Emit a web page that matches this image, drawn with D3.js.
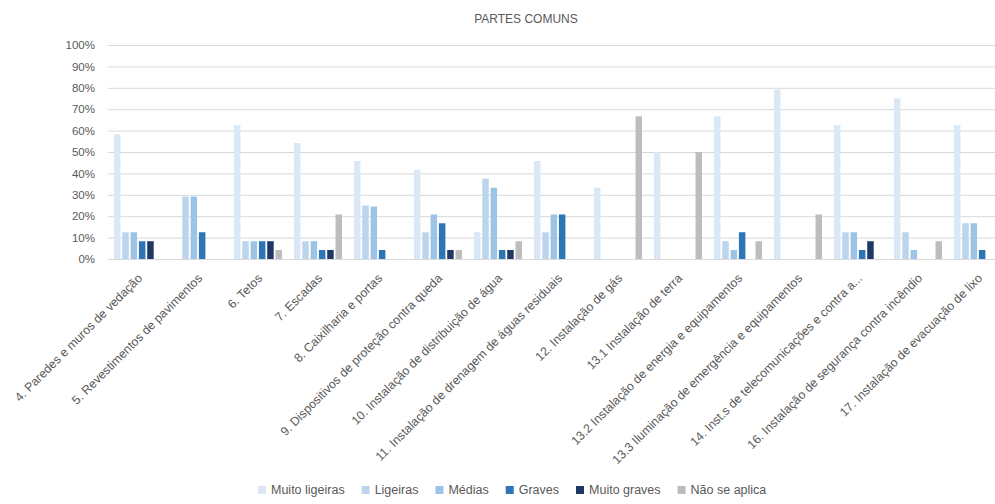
<!DOCTYPE html>
<html><head><meta charset="utf-8">
<script src="https://cdn.jsdelivr.net/npm/d3@7"></script>
<style>body{margin:0;background:#fff;} svg{display:block;font-family:"Liberation Sans",Arial,sans-serif;}</style>
</head><body><svg id="c" width="995" height="504"></svg>
<script>
const title = "PARTES COMUNS";
const categories = ["4. Paredes e muros de vedação","5. Revestimentos de pavimentos","6. Tetos","7. Escadas","8. Caixilharia e portas","9. Dispositivos de proteção contra queda","10. Instalação de distribuição de água","11. Instalação de drenagem de águas residuais","12. Instalação de gás","13.1 Instalação de terra","13.2 Instalação de energia e equipamentos","13.3 Iluminação de emergência e equipamentos","14. Inst.s de telecomunicações e contra a...","16. Instalação de segurança contra incêndio","17. Instalação de evacuação de lixo"];
const seriesNames = ["Muito ligeiras","Ligeiras","Médias","Graves","Muito graves","Não se aplica"];
const muitoLigeiras = [58.3, 0, 62.5, 54.2, 45.8, 41.7, 12.5, 45.8, 33.3, 50, 66.7, 79.2, 62.5, 75, 62.5];
const ligeiras      = [12.5, 29.2, 8.3, 8.3, 25, 12.5, 37.5, 12.5, 0, 0, 8.3, 0, 12.5, 12.5, 16.7];
const medias        = [12.5, 29.2, 8.3, 8.3, 24.5, 20.8, 33.3, 20.8, 0, 0, 4.2, 0, 12.5, 4.2, 16.7];
const graves        = [8.3, 12.5, 8.3, 4.2, 4.2, 16.7, 4.2, 20.8, 0, 0, 12.5, 0, 4.2, 0, 4.2];
const muitoGraves   = [8.3, 0, 8.3, 4.2, 0, 4.2, 4.2, 0, 0, 0, 0, 0, 8.3, 0, 0];
const naoSeAplica   = [0, 0, 4.2, 20.8, 0, 4.2, 8.3, 0, 66.7, 50, 8.3, 20.8, 0, 8.3, 0];
const yTicks = [0,10,20,30,40,50,60,70,80,90,100];
const colors = ["#dae8f5","#bdd5ec","#9dc3e6","#2e75b6","#1f3864","#bdbdbd"];

const seriesValues = [muitoLigeiras, ligeiras, medias, graves, muitoGraves, naoSeAplica];
const svg = d3.select("#c");
const x0 = d3.scaleBand().domain(categories).range([108, 1008]).padding(0);
const x1 = d3.scaleBand().domain(seriesNames).range([6, 54]).paddingInner(0.22);
const y = d3.scaleLinear().domain([0, 100]).range([259, 45]);

// gridlines
svg.append("g").selectAll("line").data(yTicks).join("line")
  .attr("x1", 108).attr("x2", 995)
  .attr("y1", d => y(d)+0.5).attr("y2", d => y(d)+0.5)
  .attr("stroke", "#d9d9d9").attr("stroke-width", 1);

// y axis labels
const yAxis = d3.axisLeft(y).tickValues(yTicks).tickFormat(d => d + "%").tickSize(0).tickPadding(0);
const ya = svg.append("g").attr("transform", "translate(95,0)").call(yAxis);
ya.select(".domain").remove();
ya.selectAll("text").attr("fill", "#595959").style("font-size", "11.5px").style("font-family", "Liberation Sans, Arial, sans-serif");

// bars
const groups = svg.append("g").selectAll("g").data(categories).join("g")
  .attr("transform", d => `translate(${x0(d)},0)`);
groups.selectAll("rect").data((c, i) => seriesNames.map((s, j) => ({s, j, v: seriesValues[j][i]})))
  .join("rect")
  .attr("x", d => x1(d.s))
  .attr("width", x1.bandwidth())
  .attr("y", d => y(d.v))
  .attr("height", d => y(0) - y(d.v))
  .attr("fill", d => colors[d.j]);

// x labels
const xAxis = d3.axisBottom(x0).tickSize(0).tickPadding(0);
const xa = svg.append("g").attr("transform", "translate(0,259)").call(xAxis);
xa.select(".domain").remove();
xa.selectAll("text")
  .attr("fill", "#595959").style("font-size", "12.3px").style("font-family", "Liberation Sans, Arial, sans-serif")
  .attr("text-anchor", "end").attr("dy", 0).attr("y", 0)
  .attr("transform", "translate(5,20) rotate(-45)");

// title
svg.append("text").attr("x", 526).attr("y", 23).attr("text-anchor", "middle")
  .attr("fill", "#595959").style("font-size", "12px").text(title);

// legend
const leg = svg.append("g").attr("transform", "translate(258,494)");
let lx = 0;
seriesNames.forEach((s, j) => {
  const g = leg.append("g").attr("transform", `translate(${lx},0)`);
  g.append("rect").attr("x", 0).attr("y", -8).attr("width", 8).attr("height", 8).attr("fill", colors[j]);
  const t = g.append("text").attr("x", 13).attr("y", 0).attr("fill", "#595959").style("font-size", "12.5px").text(s);
  lx += 13 + t.node().getComputedTextLength() + 17;
});
</script></body></html>
